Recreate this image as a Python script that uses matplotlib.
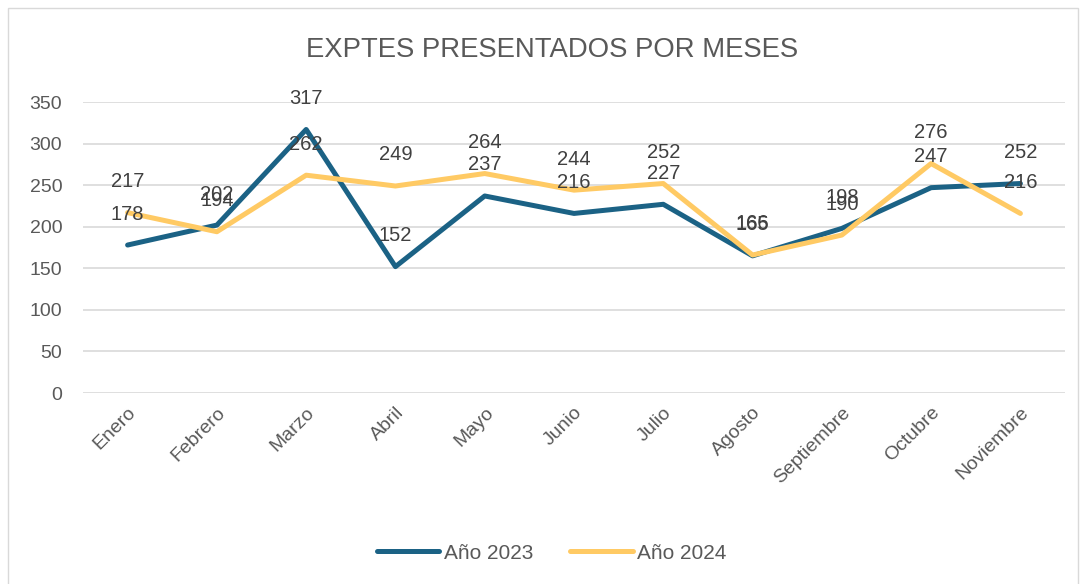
import matplotlib.pyplot as plt
from matplotlib.patches import Rectangle

months = ["Enero", "Febrero", "Marzo", "Abril", "Mayo", "Junio", "Julio",
          "Agosto", "Septiembre", "Octubre", "Noviembre"]
values_2023 = [178, 202, 317, 152, 237, 216, 227, 165, 198, 247, 252]
values_2024 = [217, 194, 262, 249, 264, 244, 252, 166, 190, 276, 216]
y_ticks = [0, 50, 100, 150, 200, 250, 300, 350]

plt.rcParams['font.family'] = ['Liberation Sans', 'DejaVu Sans']

fig = plt.figure(figsize=(10.86, 5.84), dpi=100)
ax = fig.add_axes([0.0764, 0.327, 0.9043, 0.4983])

fig.patches.append(Rectangle((0.007, -0.01), 0.986, 0.997, transform=fig.transFigure,
                             fill=False, edgecolor='#D9D9D9', linewidth=1))

x = list(range(len(months)))
ax.plot(x, values_2023, color='#1B6285', linewidth=3.6, solid_capstyle='round',
        solid_joinstyle='round', label='Año 2023', zorder=3)
ax.plot(x, values_2024, color='#FFCA64', linewidth=3.6, solid_capstyle='round',
        solid_joinstyle='round', label='Año 2024', zorder=3)

for series in (values_2023, values_2024):
    for xi, v in zip(x, series):
        ax.annotate(str(v), (xi, v), xytext=(0, 15.5), textcoords='offset points',
                    ha='center', va='bottom', fontsize=14.5, color='#404040', zorder=4)

ax.set_xlim(-0.5, len(months) - 0.5)
ax.set_ylim(0, 350)
ax.set_yticks(y_ticks)
ax.set_xticks(x)
ax.set_xticklabels(months, rotation=45, ha='right', rotation_mode='anchor')
ax.tick_params(axis='both', length=0, labelsize=14, labelcolor='#595959')
ax.tick_params(axis='x', pad=8)
ax.tick_params(axis='y', pad=15)
ax.grid(axis='y', color='#D9D9D9', linewidth=1.2)
ax.set_axisbelow(True)
for s in ax.spines.values():
    s.set_visible(False)

fig.text(0.508, 0.914, "EXPTES PRESENTADOS POR MESES", ha='center', va='center',
         fontsize=19.8, color='#595959')

fig.legend(loc='center', bbox_to_anchor=(0.508, 0.053), ncol=2, frameon=False,
           fontsize=15, labelcolor='#595959', handlelength=3, handletextpad=0.2,
           columnspacing=1.8)

fig.savefig('out.png', dpi=100)
